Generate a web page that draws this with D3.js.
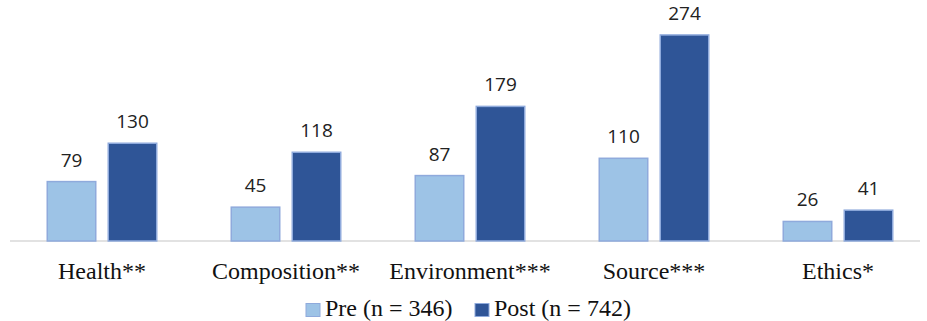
<!DOCTYPE html>
<html><head><meta charset="utf-8">
<script src="https://cdn.jsdelivr.net/npm/d3@7"></script>
<style>body{margin:0;background:#fff}svg{display:block}</style>
</head><body>
<svg id="c" width="927" height="321"></svg>
<script>
const categories = ["Health**", "Composition**", "Environment***", "Source***", "Ethics*"];
const preValues = [79, 45, 87, 110, 26];
const postValues = [130, 118, 179, 274, 41];
const seriesNames = ["Pre (n = 346)", "Post (n = 742)"];
const yTicks = [0, 300];

const svg = d3.select("#c");
const x = d3.scaleBand().domain(categories).range([10, 930]);
const y = d3.scaleLinear().domain(yTicks).range([241, 15.4]);
const barW = 50, gap = 11;
const colors = ["#9DC3E6", "#2F5597"];
const stroke = "#8FAADC";

svg.append("line").attr("x1", 10).attr("x2", 920).attr("y1", y(0)).attr("y2", y(0))
  .attr("stroke", "#D9D9D9").attr("stroke-width", 1.5);

const series = [preValues, postValues];
series.forEach((vals, si) => {
  const g = svg.append("g");
  const off = si === 0 ? -(gap/2 + barW) : gap/2;
  g.selectAll("rect").data(categories).join("rect")
    .attr("x", d => x(d) + x.bandwidth()/2 + off + 0.75)
    .attr("y", (d,i) => y(vals[i]))
    .attr("width", barW - 1.5)
    .attr("height", (d,i) => y(0) - y(vals[i]))
    .attr("fill", colors[si]).attr("stroke", stroke).attr("stroke-width", 1.5);
  g.selectAll("text").data(categories).join("text")
    .attr("x", d => x(d) + x.bandwidth()/2 + off + barW/2)
    .attr("y", (d,i) => y(vals[i]) - 15)
    .attr("text-anchor", "middle")
    .attr("font-family", "'Open Sans', 'Liberation Sans', sans-serif")
    .attr("font-size", 19).attr("fill", "#222")
    .text((d,i) => vals[i]);
});

svg.append("g").selectAll("text").data(categories).join("text")
  .attr("x", d => x(d) + x.bandwidth()/2)
  .attr("y", 278.5)
  .attr("text-anchor", "middle")
  .attr("font-family", "'Liberation Serif', serif")
  .attr("font-size", 24).attr("fill", "#111")
  .text(d => d);

const legendX = [306, 475];
seriesNames.forEach((n, i) => {
  svg.append("rect").attr("x", legendX[i]).attr("y", 303.5).attr("width", 14).attr("height", 13)
    .attr("fill", colors[i]).attr("stroke", stroke).attr("stroke-width", 1);
  svg.append("text").attr("x", legendX[i] + 19).attr("y", 316)
    .attr("font-family", "'Liberation Serif', serif").attr("font-size", 24).attr("fill", "#111")
    .text(n);
});
</script>
</body></html>
